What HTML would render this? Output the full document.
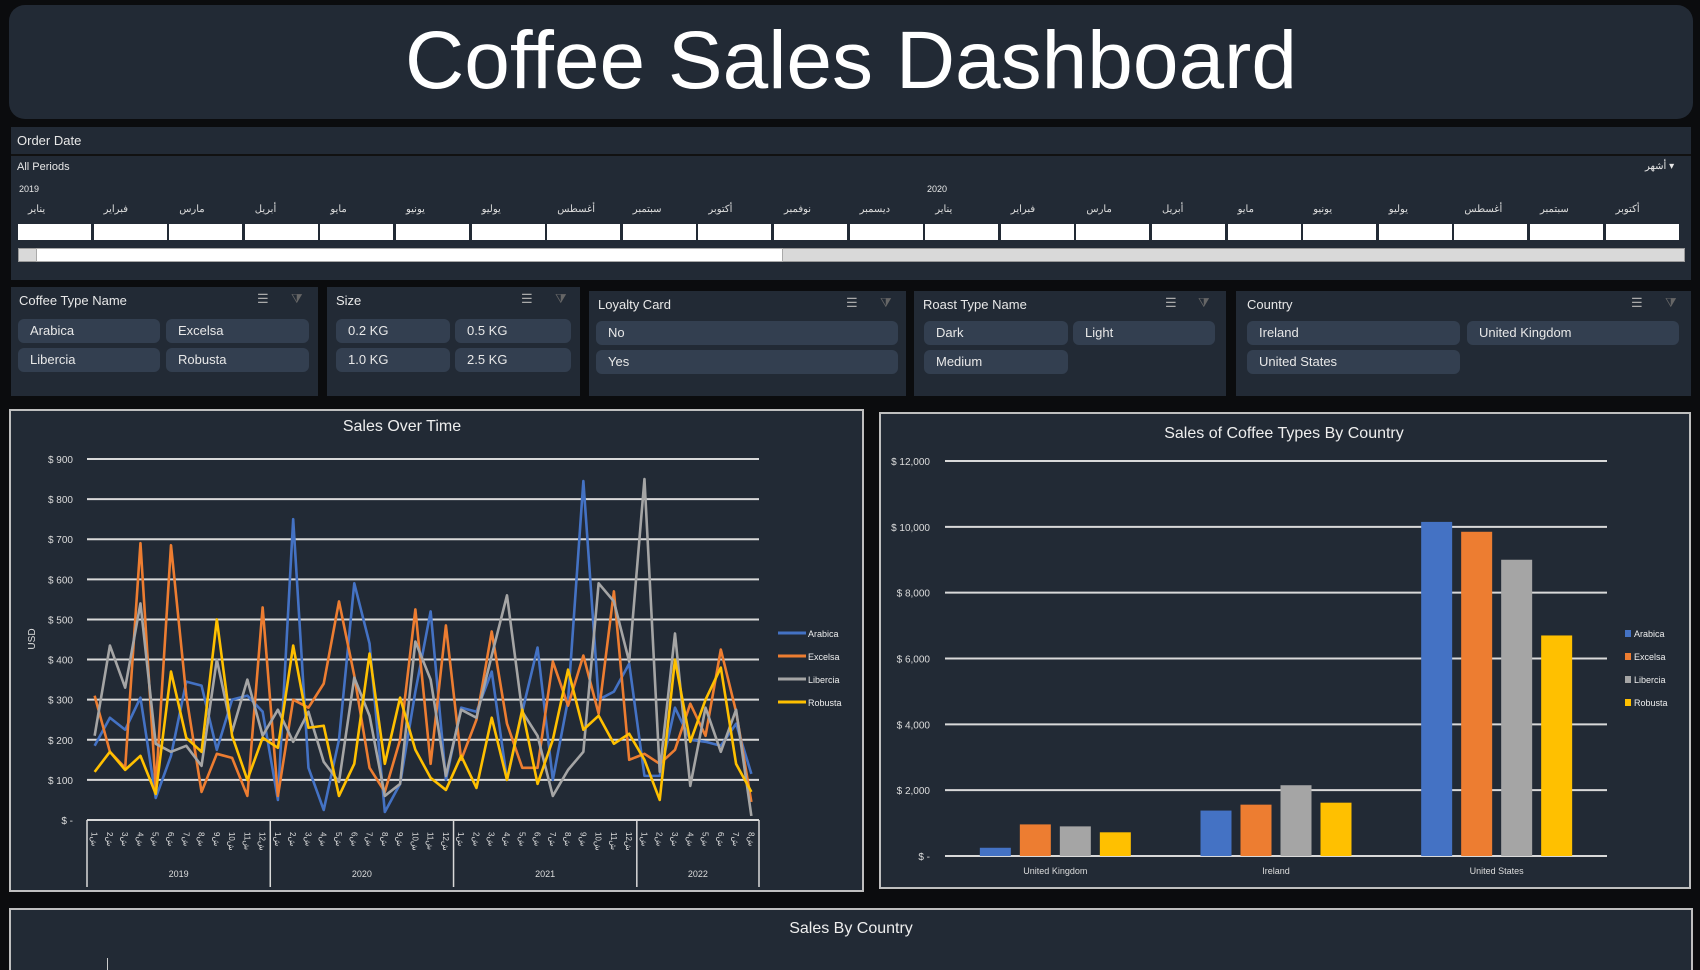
<!DOCTYPE html>
<html><head><meta charset="utf-8">
<style>
*{box-sizing:border-box;margin:0;padding:0}
body{width:1700px;height:970px;background:#0b0c0e;position:relative;overflow:hidden;font-family:"Liberation Sans","Noto Sans CJK SC",sans-serif;color:#fff}
.abs{position:absolute}
.panel{position:absolute;background:#222a35}
.btn{position:absolute;background:#333f50;border-radius:6px;font-size:13px;color:#e8e8e8;padding-left:12px;line-height:24px}
.st{position:absolute;font-size:13px;color:#e8e8e8}
.cell{position:absolute;background:#fff;top:224px;height:16px}
.mon{position:absolute;top:204px;font-size:10px;color:#ddd;font-family:"Liberation Sans","WenQuanYi Zen Hei",sans-serif}
.ico{position:absolute;font-size:13px;color:#aaa}
</style></head><body>
<div class="abs" style="left:9px;top:5px;width:1684px;height:114px;background:#222a35;border-radius:16px"></div>
<div class="abs" style="left:9px;top:14px;width:1684px;text-align:center;font-size:82px;color:#fff">Coffee Sales Dashboard</div>

<div class="panel" style="left:11px;top:127px;width:1680px;height:153px"></div>
<div class="st" style="left:17px;top:133px">Order Date</div>
<div class="abs" style="left:11px;top:154px;width:1680px;height:2px;background:#111"></div>
<div class="st" style="left:17px;top:161px;font-size:11px">All Periods</div>
<div class="st" style="left:1645px;top:161px;font-size:10px;font-family:'Liberation Sans','WenQuanYi Zen Hei',sans-serif">أشهر ▾</div>
<div class="st" style="left:19px;top:184px;font-size:9px">2019</div>
<div class="st" style="left:927px;top:184px;font-size:9px">2020</div>
<div id="cells"></div>
<div class="abs" style="left:18px;top:248px;width:1667px;height:14px;background:#d9d9d9;border:1px solid #999"></div>
<div class="abs" style="left:36px;top:248px;width:747px;height:14px;background:#fff;border:1px solid #aaa"></div>

<!-- slicers -->
<div class="panel" style="left:11px;top:287px;width:307px;height:109px"></div>
<div class="st" style="left:19px;top:293px">Coffee Type Name</div>
<div class="ico" style="left:257px;top:291px">☰</div><div class="ico" style="left:291px;top:291px;color:#666">⧩</div>
<div class="btn" style="left:18px;top:319px;width:142px">Arabica</div>
<div class="btn" style="left:166px;top:319px;width:143px">Excelsa</div>
<div class="btn" style="left:18px;top:348px;width:142px">Libercia</div>
<div class="btn" style="left:166px;top:348px;width:143px">Robusta</div>

<div class="panel" style="left:327px;top:287px;width:253px;height:109px"></div>
<div class="st" style="left:336px;top:293px">Size</div>
<div class="ico" style="left:521px;top:291px">☰</div><div class="ico" style="left:555px;top:291px;color:#666">⧩</div>
<div class="btn" style="left:336px;top:319px;width:114px">0.2 KG</div>
<div class="btn" style="left:455px;top:319px;width:116px">0.5 KG</div>
<div class="btn" style="left:336px;top:348px;width:114px">1.0 KG</div>
<div class="btn" style="left:455px;top:348px;width:116px">2.5 KG</div>

<div class="panel" style="left:589px;top:291px;width:317px;height:105px"></div>
<div class="st" style="left:598px;top:297px">Loyalty Card</div>
<div class="ico" style="left:846px;top:295px">☰</div><div class="ico" style="left:880px;top:295px;color:#666">⧩</div>
<div class="btn" style="left:596px;top:321px;width:302px">No</div>
<div class="btn" style="left:596px;top:350px;width:302px">Yes</div>

<div class="panel" style="left:914px;top:291px;width:312px;height:105px"></div>
<div class="st" style="left:923px;top:297px">Roast Type Name</div>
<div class="ico" style="left:1165px;top:295px">☰</div><div class="ico" style="left:1198px;top:295px;color:#666">⧩</div>
<div class="btn" style="left:924px;top:321px;width:144px">Dark</div>
<div class="btn" style="left:1073px;top:321px;width:142px">Light</div>
<div class="btn" style="left:924px;top:350px;width:144px">Medium</div>

<div class="panel" style="left:1236px;top:291px;width:455px;height:105px"></div>
<div class="st" style="left:1247px;top:297px">Country</div>
<div class="ico" style="left:1631px;top:295px">☰</div><div class="ico" style="left:1665px;top:295px;color:#666">⧩</div>
<div class="btn" style="left:1247px;top:321px;width:213px">Ireland</div>
<div class="btn" style="left:1467px;top:321px;width:212px">United Kingdom</div>
<div class="btn" style="left:1247px;top:350px;width:213px">United States</div>

<!-- line chart -->
<svg id="lc" class="abs" style="left:9px;top:409px" width="855" height="483"></svg>
<!-- bar chart -->
<svg id="bc" class="abs" style="left:879px;top:412px" width="812" height="477"></svg>

<div class="abs" style="left:9px;top:908px;width:1684px;height:62px;background:#222a35;border:2px solid #bfbfbf;border-bottom:none"></div>
<div class="abs" style="left:9px;top:920px;width:1684px;text-align:center;font-size:16px;color:#eee">Sales By Country</div>
<div class="abs" style="left:107px;top:958px;width:1px;height:12px;background:#ccc"></div>

<script>
const NS='http://www.w3.org/2000/svg';
function mk(p,tag,attrs,txt){const e=document.createElementNS(NS,tag);for(const k in attrs)e.setAttribute(k,attrs[k]);if(txt!==undefined)e.textContent=txt;p.appendChild(e);return e;}

// timeline
const months=['يناير','فبراير','مارس','أبريل','مايو','يونيو','يوليو','أغسطس','سبتمبر','أكتوبر','نوفمبر','ديسمبر','يناير','فبراير','مارس','أبريل','مايو','يونيو','يوليو','أغسطس','سبتمبر','أكتوبر'];
const cells=document.getElementById('cells');
months.forEach((m,i)=>{
  const x=18+i*75.6;
  const c=document.createElement('div');c.className='cell';c.style.left=x+'px';c.style.width='73px';
  
  
  cells.appendChild(c);
  const t=document.createElement('div');t.className='mon';t.style.left=(x+10)+'px';t.textContent=m;
  
  
  cells.appendChild(t);
});

// ---- line chart data ----
const seriesNames=['Arabica','Excelsa','Libercia','Robusta'];
const seriesColors=['#4472c4','#ed7d31','#a5a5a5','#ffc000'];
const years=['2019','2020','2021','2022'];
const monthsPerYear=[12,12,12,8];
const yTicksLine=[0,100,200,300,400,500,600,700,800,900];
const arabica=[185,255,225,305,55,160,345,335,175,300,310,270,50,750,130,25,200,590,440,20,90,320,520,100,280,270,370,100,270,430,100,300,845,300,320,390,110,110,280,200,195,185,240,115];
const excelsa=[310,170,130,690,80,685,310,70,165,155,60,530,60,300,280,340,545,360,130,70,200,525,140,485,150,250,470,240,130,130,395,285,410,265,570,150,165,140,175,290,210,425,270,45];
const liberica=[210,435,330,540,190,170,185,135,400,220,350,210,275,195,270,145,95,355,260,60,90,445,350,110,275,255,410,560,270,210,60,125,170,590,545,395,850,120,465,85,280,170,275,10];
const robusta=[120,170,125,160,65,370,205,170,500,210,100,205,180,435,230,235,60,140,415,140,305,175,105,75,160,80,255,100,275,90,200,375,225,260,190,215,150,50,400,195,300,380,140,70];
const lineSeries=[arabica,excelsa,liberica,robusta];

(function(){
  const s=document.getElementById('lc');
  mk(s,'rect',{x:1,y:1,width:853,height:481,fill:'#222a35',stroke:'#bfbfbf','stroke-width':2});
  const t=mk(s,'text',{x:393,y:-2+0,'text-anchor':'middle','font-size':16,fill:'#eee'},'Sales Over Time');t.setAttribute('y',22);
  
  const X0=78,X1=750,Y0=411,Y1=50,YMAX=900;
  const n=arabica.length;
  const xs=i=>X0+(X1-X0)/n*(i+0.5);
  const ys=v=>Y0-(v/YMAX)*(Y0-Y1);
  yTicksLine.forEach(v=>{
    if(v>0){const g=mk(s,'line',{x1:X0,x2:X1,y1:ys(v),y2:ys(v),stroke:'#d9d9d9','stroke-width':2});}
    const l=mk(s,'text',{x:64,y:ys(v)+4,'text-anchor':'end','font-size':10,fill:'#ddd'},v?'$ '+v:'$ -');
    
  });
  const yt=mk(s,'text',{x:26,y:230,'text-anchor':'middle','font-size':10,fill:'#ddd',transform:'rotate(-90 26 230)'},'USD');
  
  // x axis
  mk(s,'line',{x1:X0,x2:X1,y1:Y0,y2:Y0,stroke:'#d9d9d9','stroke-width':2});
  let idx=0;const slot=(X1-X0)/n;
  mk(s,'line',{x1:X0,x2:X0,y1:Y0,y2:478,stroke:'#d9d9d9','stroke-width':1.5});
  years.forEach((y,k)=>{
    const a=X0+idx*slot;idx+=monthsPerYear[k];const b=X0+idx*slot;
    mk(s,'line',{x1:b,x2:b,y1:Y0,y2:478,stroke:'#d9d9d9','stroke-width':1.5});
    const yl=mk(s,'text',{x:(a+b)/2,y:468,'text-anchor':'middle','font-size':9,fill:'#ddd'},y);
    
    for(let m=0;m<monthsPerYear[k];m++){
      const cx=a+slot*(m+0.5);
      const ml=mk(s,'text',{x:cx,y:420,'font-size':8,fill:'#ddd',transform:`rotate(90 ${cx-3} 420)`},'ش'+(m+1));
      
    }
  });
  lineSeries.forEach((arr,k)=>{
    const p=mk(s,'polyline',{points:arr.map((v,i)=>xs(i)+','+ys(v)).join(' '),fill:'none',stroke:seriesColors[k],'stroke-width':2.6,'stroke-linejoin':'round'});
    
    
  });
  seriesNames.forEach((nm,k)=>{
    const y=224+k*23;
    const g=mk(s,'g',{});
    
    
    mk(g,'line',{x1:769,x2:797,y1:y,y2:y,stroke:seriesColors[k],'stroke-width':3});
    mk(g,'text',{x:799,y:y+4,'font-size':9,fill:'#eee'},nm);
  });
})();

// ---- bar chart data ----
const countries=['United Kingdom','Ireland','United States'];
const barArabica=[250,1380,10150];
const barExcelsa=[960,1560,9850];
const barLiberica=[900,2150,9000];
const barRobusta=[720,1620,6700];
const yTicksBar=[0,2000,4000,6000,8000,10000,12000];
const barSeries=[barArabica,barExcelsa,barLiberica,barRobusta];

(function(){
  const s=document.getElementById('bc');
  mk(s,'rect',{x:1,y:1,width:810,height:475,fill:'#222a35',stroke:'#bfbfbf','stroke-width':2});
  const t=mk(s,'text',{x:405,y:26,'text-anchor':'middle','font-size':16,fill:'#eee'},'Sales of Coffee Types By Country');
  
  const X0=66,X1=728,Y0=444,Y1=49,YMAX=12000;
  const ys=v=>Y0-(v/YMAX)*(Y0-Y1);
  yTicksBar.forEach(v=>{
    const g=mk(s,'line',{x1:X0,x2:X1,y1:ys(v),y2:ys(v),stroke:'#d9d9d9','stroke-width':2});
    
    const l=mk(s,'text',{x:51,y:ys(v)+4,'text-anchor':'end','font-size':10,fill:'#ddd'},v?'$ '+v.toLocaleString('en-US'):'$ -');
    
  });
  const gw=(X1-X0)/countries.length, bw=31, bs=40;
  countries.forEach((c,i)=>{
    const cx=X0+gw*(i+0.5);
    const l=mk(s,'text',{x:cx,y:462,'text-anchor':'middle','font-size':9,fill:'#ddd'},c);
    
    barSeries.forEach((arr,k)=>{
      const x=cx+(k-1.5)*bs-bw/2;
      const r=mk(s,'rect',{x:x,y:ys(arr[i]),width:bw,height:Y0-ys(arr[i]),fill:seriesColors[k]});
      
      
    });
  });
  seriesNames.forEach((nm,k)=>{
    const y=222+k*23;
    const g=mk(s,'g',{});
    
    
    mk(g,'rect',{x:746,y:y-4,width:6,height:7,fill:seriesColors[k]});
    mk(g,'text',{x:755,y:y+3,'font-size':9,fill:'#eee'},nm);
  });
})();
</script>
</body></html>
